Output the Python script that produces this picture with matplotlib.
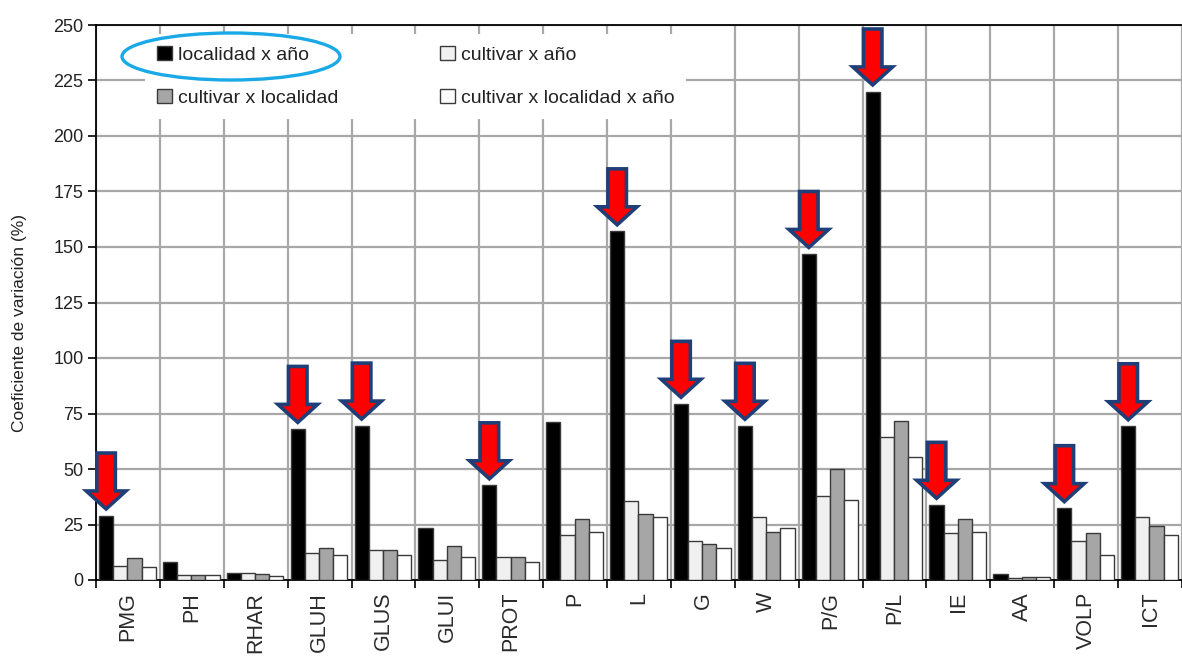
import matplotlib
matplotlib.use('Agg')
import matplotlib.pyplot as plt
from matplotlib.patches import Patch, Ellipse, FancyArrow
import numpy as np

plt.rcParams['font.family'] = ['Liberation Sans', 'DejaVu Sans']

categorias = ['PMG', 'PH', 'RHAR', 'GLUH', 'GLUS', 'GLUI', 'PROT', 'P', 'L', 'G',
              'W', 'P/G', 'P/L', 'IE', 'AA', 'VOLP', 'ICT']
localidad_anio = [29, 8.1, 3.2, 68, 69.5, 23.6, 42.6, 71, 157, 79.3,
                  69.4, 146.8, 220, 33.8, 2.6, 32.3, 69.2]
cultivar_anio = [6.4, 2.4, 3.2, 12.2, 13.7, 8.9, 10.4, 20.1, 35.6, 17.7,
                 28.2, 37.7, 64.3, 21, 0.9, 17.6, 28.4]
cultivar_localidad = [9.8, 2.4, 2.6, 14.6, 13.7, 15.3, 10.4, 27.5, 29.6, 16.1,
                      21.6, 49.9, 71.6, 27.3, 1.5, 21, 24.3]
cultivar_localidad_anio = [5.9, 2.4, 1.7, 11.3, 11.3, 10.5, 8.0, 21.8, 28.2, 14.6,
                           23.4, 36.2, 55.5, 21.8, 1.5, 11.4, 20.1]
# variables con flecha sobre la barra de localidad x año
marcadas = ['PMG', 'GLUH', 'GLUS', 'PROT', 'L', 'G', 'W', 'P/G', 'P/L', 'IE', 'VOLP', 'ICT']

series = [
    ('localidad x año', localidad_anio, '#000000'),
    ('cultivar x año', cultivar_anio, '#f0f0f0'),
    ('cultivar x localidad', cultivar_localidad, '#a6a6a6'),
    ('cultivar x localidad x año', cultivar_localidad_anio, '#ffffff'),
]

W, H = 1182, 656
fig = plt.figure(figsize=(W / 100, H / 100), dpi=100)
ax = fig.add_axes([96 / W, 76 / H, (W - 96) / W, 555 / H])

x = np.arange(len(categorias))
ancho = 0.222
inicio = 0.047
for i, (nombre, valores, color) in enumerate(series):
    ax.bar(x + inicio + i * ancho, valores, width=ancho, align='edge',
           color=color, edgecolor='#3a3a3a', linewidth=1.0, zorder=3)

ax.set_xlim(0, (W - 96) / 64.3)
ax.set_ylim(0, 250)
ax.set_yticks(np.arange(0, 251, 25))
ax.set_xticks(np.arange(0, len(categorias) + 1))
ax.set_xticklabels([])
ax.set_xticks(x + 0.5, minor=True)
ax.set_xticklabels(categorias, minor=True, rotation=90, fontsize=15.5, color='#2a2a2a')
ax.tick_params(axis='x', which='minor', length=0, pad=8.5)
ax.tick_params(axis='x', which='major', direction='out', length=6, width=1.2)
ax.tick_params(axis='y', direction='out', length=6, width=1.2, labelsize=13,
               pad=3, labelcolor='#222222')
ax.grid(True, which='major', color='#a8a8a8', linewidth=1.6, zorder=0)
ax.set_axisbelow(True)
for lado in ['left', 'bottom', 'top']:
    ax.spines[lado].set_linewidth(1.3)
ax.spines['right'].set_visible(False)

fig.text(20 / W, 1 - 323 / H, 'Coeficiente de variación (%)', rotation=90,
         ha='center', va='center', fontsize=12.5, color='#222222')

# flechas rojas sobre las barras de localidad x año
for cat in marcadas:
    k = categorias.index(cat)
    xc = k + inicio + ancho / 2
    punta = localidad_anio[k] + 3
    largo = 25.2
    ax.add_patch(FancyArrow(xc, punta + largo, 0, -largo, width=0.29,
                            head_width=0.62, head_length=8.1,
                            length_includes_head=True, facecolor='#ff0000',
                            edgecolor='#1f3f78', linewidth=2.6, zorder=6,
                            clip_on=False))

orden = [0, 2, 1, 3]
handles = [Patch(facecolor=series[i][2], edgecolor='#3a3a3a', linewidth=1.0,
                 label=series[i][0]) for i in orden]
leg = fig.legend(handles=handles, ncol=2, loc='upper left',
                 bbox_to_anchor=(145 / W, 1 - 34 / H), borderaxespad=0,
                 fontsize=14, frameon=True, facecolor='white', edgecolor='none',
                 framealpha=1, fancybox=False, borderpad=0.6, handlelength=0.8,
                 handleheight=0.75, handletextpad=0.3, labelspacing=1.32,
                 columnspacing=5.2)
for t in leg.get_texts():
    t.set_color('#222222')

fig.add_artist(Ellipse((231 / W, 1 - 56.5 / H), 218 / W, 47 / H,
                       transform=fig.transFigure, fill=False,
                       edgecolor='#19a9e6', linewidth=2.4, zorder=10))

fig.savefig('out.png', dpi=100)
